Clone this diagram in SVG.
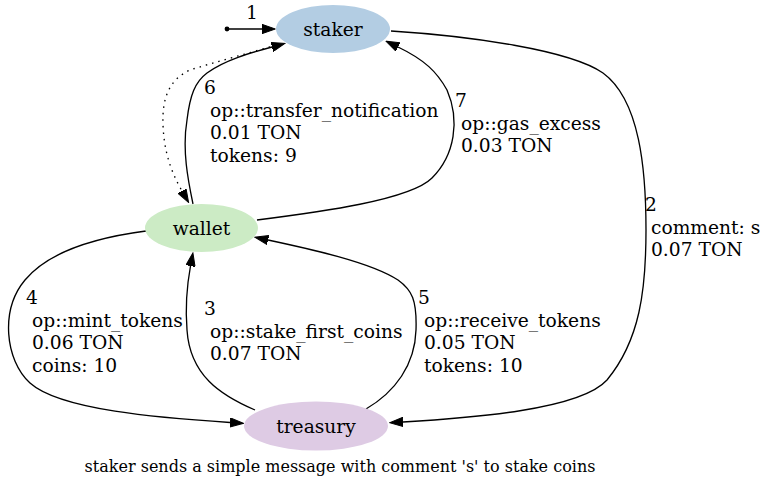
<svg xmlns="http://www.w3.org/2000/svg" width="767" height="489" viewBox="0 0 767 489">
<style>
.lbl{font-family:"DejaVu Serif",serif;font-size:18.67px;fill:#000}
.nt{font-family:"DejaVu Serif",serif;font-size:18.67px;fill:#000;text-anchor:middle}
.cap{font-family:"DejaVu Serif",serif;font-size:16px;fill:#000;text-anchor:middle}
.e{fill:none;stroke:#000;stroke-width:1.33}
.dot{stroke-dasharray:1.5,5}
</style>
<defs>
<marker id="ah" markerUnits="userSpaceOnUse" markerWidth="14" markerHeight="10" viewBox="0 -5 14 10" refX="0" refY="0" orient="auto">
<path d="M0,-4.67 L13.3,0 L0,4.67 Z" fill="#000" stroke="#000" stroke-width="1"/>
</marker>
</defs>
<rect width="767" height="489" fill="#fff"/>
<g id="connectors">
<circle cx="227" cy="29" r="2.4" fill="#000"/>
<path class="e" d="M227,29 L262,29" marker-end="url(#ah)"/>
<path class="e" d="M391,31 C470,36 570,50 603,73 C640,100 646,170 646,230 C646,290 640,340 607,380 C580,410 470,418 403,422" marker-end="url(#ah)"/>
<path class="e" d="M255,410 C220,395 190,375 187,330 C185,305 187,285 190.5,266" marker-end="url(#ah)"/>
<path class="e" d="M146,231 C100,237 50,250 25,280 C0,310 5,360 30,383 C60,410 160,418 230,422.5" marker-end="url(#ah)"/>
<path class="e" d="M366,409 C395,392 415,365 416,330 C417,300 412,290 398,280 C370,262 310,249 268,240" marker-end="url(#ah)"/>
<path class="e" d="M193,204 C188,180 182,150 187,120 C190,95 195,82 207,73 C225,60 250,53 272,47" marker-end="url(#ah)"/>
<path class="e dot" d="M276,45 C250,53 215,62 190,70 C168,80 162,100 163,125 C164,150 170,170 182,191" marker-end="url(#ah)"/>
<path class="e" d="M257,220 C320,212 410,200 432,178 C455,155 460,120 447,90 C437,72 425,60 398,47" marker-end="url(#ah)"/>
</g>
<g id="staker">
<ellipse cx="333" cy="29" rx="57" ry="24" fill="#b3cde3"/>
<text class="nt" x="333" y="35.5">staker</text>
</g>
<g id="wallet">
<ellipse cx="201.5" cy="228" rx="56.5" ry="24" fill="#ccebc5"/>
<text class="nt" x="201.5" y="234.5">wallet</text>
</g>
<g id="treasury">
<ellipse cx="316" cy="426" rx="72" ry="24.5" fill="#decbe4"/>
<text class="nt" x="316" y="432.5">treasury</text>
</g>
<g id="labels">
<text class="lbl" x="246" y="19">1</text>
<text class="lbl" x="645" y="211">2</text>
<text class="lbl" x="651" y="233.5">comment: s</text>
<text class="lbl" x="651" y="256">0.07 TON</text>
<text class="lbl" x="204" y="315">3</text>
<text class="lbl" x="210" y="337.5">op::stake_first_coins</text>
<text class="lbl" x="210" y="360">0.07 TON</text>
<text class="lbl" x="26" y="304">4</text>
<text class="lbl" x="32" y="326.5">op::mint_tokens</text>
<text class="lbl" x="32" y="349">0.06 TON</text>
<text class="lbl" x="32" y="371.5">coins: 10</text>
<text class="lbl" x="418" y="304">5</text>
<text class="lbl" x="424" y="326.5">op::receive_tokens</text>
<text class="lbl" x="424" y="349">0.05 TON</text>
<text class="lbl" x="424" y="371.5">tokens: 10</text>
<text class="lbl" x="204" y="94">6</text>
<text class="lbl" x="210" y="116.5">op::transfer_notification</text>
<text class="lbl" x="210" y="139">0.01 TON</text>
<text class="lbl" x="210" y="161.5">tokens: 9</text>
<text class="lbl" x="455" y="107">7</text>
<text class="lbl" x="461" y="129.5">op::gas_excess</text>
<text class="lbl" x="461" y="152">0.03 TON</text>
</g>
<text class="cap" x="340" y="472">staker sends a simple message with comment 's' to stake coins</text>
</svg>
